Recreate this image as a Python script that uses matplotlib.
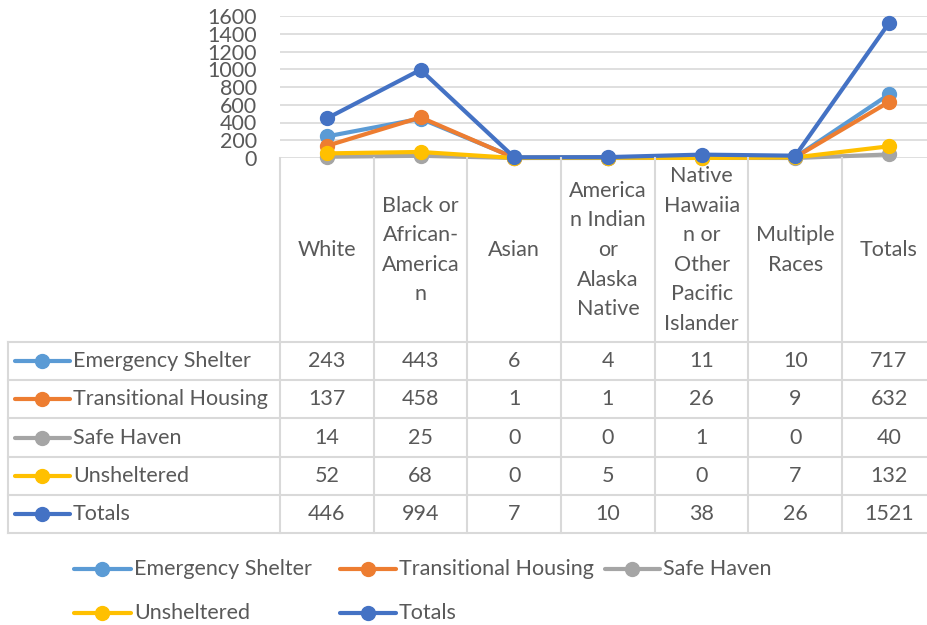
import numpy as np
import matplotlib
matplotlib.use("Agg")
import matplotlib.pyplot as plt
from matplotlib.lines import Line2D

W, H = 928, 625
DPI = 100

categories = ["White", "Black or\nAfrican-\nAmerica\nn", "Asian",
              "America\nn Indian\nor\nAlaska\nNative",
              "Native\nHawaiia\nn or\nOther\nPacific\nIslander",
              "Multiple\nRaces", "Totals"]
series_names = ["Emergency Shelter", "Transitional Housing", "Safe Haven",
                "Unsheltered", "Totals"]
emergency = [243, 443, 6, 4, 11, 10, 717]
transitional = [137, 458, 1, 1, 26, 9, 632]
safe_haven = [14, 25, 0, 0, 1, 0, 40]
unsheltered = [52, 68, 0, 5, 0, 7, 132]
totals = [446, 994, 7, 10, 38, 26, 1521]
all_series = [emergency, transitional, safe_haven, unsheltered, totals]
colors = ["#5B9BD5", "#ED7D31", "#A5A5A5", "#FFC000", "#4472C4"]
yticks = [0, 200, 400, 600, 800, 1000, 1200, 1400, 1600]

TXT = "#595959"
GRID = "#D9D9D9"
FONT = "Lato"
FS = 15.5
LW = 3.0
MS = 10

plt.rcParams['font.family'] = [FONT, 'DejaVu Sans']

fig = plt.figure(figsize=(W / DPI, H / DPI), dpi=DPI)

# pixel helpers (y measured from top)
def fx(px):
    return px / W

def fy(py):
    return 1 - py / H

col_w = 93.7
x_left = 280
y_zero, y_top = 158, 16
ax = fig.add_axes([fx(x_left), fy(y_zero), 7 * col_w / W, (y_zero - y_top) / H])
ax.set_xlim(-0.5, 6.5)
ax.set_ylim(0, 1600)
ax.set_yticks(yticks)
ax.set_yticklabels([str(t) for t in yticks], color=TXT, fontsize=FS)
ax.tick_params(axis="y", length=0, pad=16.5)
ax.set_xticks([])
ax.grid(axis="y", color=GRID, lw=1.2)
ax.set_axisbelow(True)
for s in ax.spines.values():
    s.set_visible(False)
ax.patch.set_alpha(0)

xs = np.arange(len(categories))
for vals, c in zip(all_series, colors):
    ax.plot(xs, vals, color=c, lw=LW, marker="o", ms=MS, clip_on=False,
            solid_capstyle="round")

# --- data table ---
row_lines = [342, 380, 418, 457, 495, 533]
table_left = 8
col_edges = [x_left + i * col_w for i in range(8)]

for y in row_lines:
    fig.add_artist(Line2D([fx(table_left), 1.0], [fy(y), fy(y)], color=GRID, lw=1.5))
fig.add_artist(Line2D([fx(table_left), fx(table_left)], [fy(row_lines[0]), fy(row_lines[-1])],
                      color=GRID, lw=1.5))
for xe in col_edges:
    fig.add_artist(Line2D([fx(xe), fx(xe)], [fy(y_zero), fy(row_lines[-1])], color=GRID, lw=1.5))

# category headers
for i, cat in enumerate(categories):
    fig.text(fx(col_edges[i] + col_w / 2), fy(250), cat, ha="center", va="center",
             color=TXT, fontsize=FS, linespacing=1.6, multialignment="center")

# rows
for r, (name, vals, c) in enumerate(zip(series_names, all_series, colors)):
    yc = (row_lines[r] + row_lines[r + 1]) / 2
    fig.add_artist(Line2D([fx(15), fx(42), fx(70)], [fy(yc)] * 3, color=c, lw=LW,
                          marker="o", ms=MS, markevery=[1], solid_capstyle="round"))
    fig.text(fx(73), fy(yc), name, ha="left", va="center", color=TXT, fontsize=FS)
    for i, v in enumerate(vals):
        fig.text(fx(col_edges[i] + col_w / 2), fy(yc), str(v), ha="center", va="center",
                 color=TXT, fontsize=FS)

# --- bottom legend ---
legend_pos = [(74, 131, 569), (340, 396, 569), (605, 660, 569), (74, 131, 613), (340, 396, 613)]
for (x0, x1, yc), name, c in zip(legend_pos, series_names, colors):
    fig.add_artist(Line2D([fx(x0), fx((x0 + x1) / 2), fx(x1)], [fy(yc)] * 3, color=c, lw=LW,
                          marker="o", ms=MS, markevery=[1], solid_capstyle="round"))
    fig.text(fx(x1 + 3), fy(yc), name, ha="left", va="center", color=TXT, fontsize=FS)

fig.savefig("out.png", dpi=DPI)
